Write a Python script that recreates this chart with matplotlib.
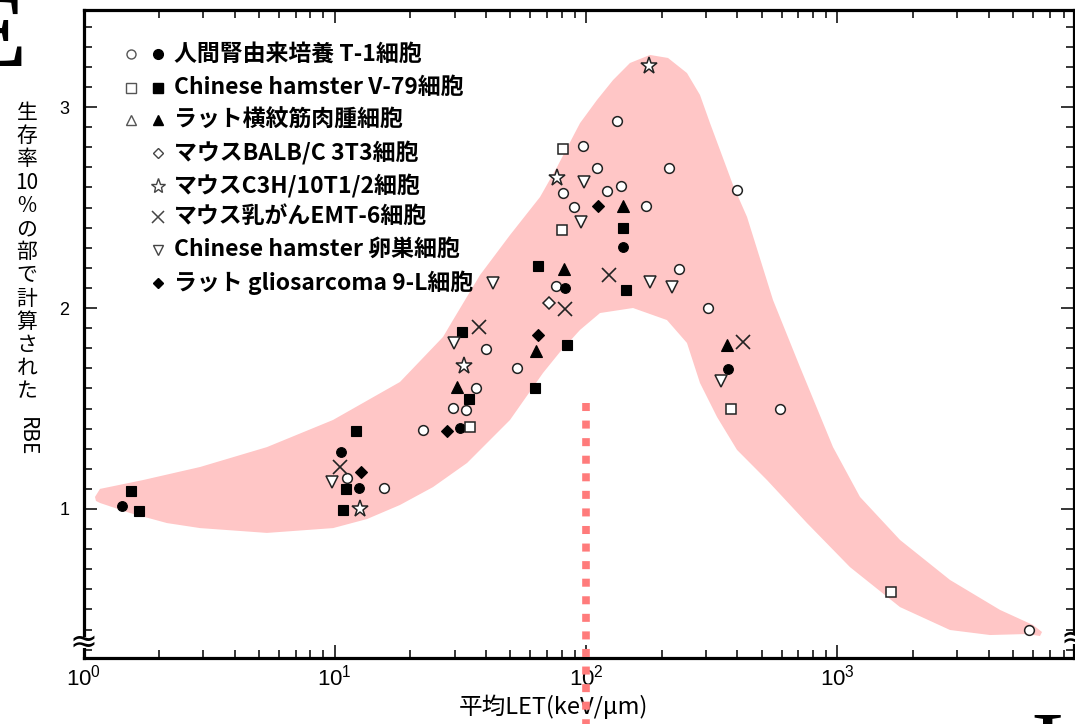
import numpy as np
import matplotlib
matplotlib.use("Agg")
import matplotlib.pyplot as plt

# ── data: LET (keV/um) and RBE at 10% survival ───────────────────────────────
t1_open_let = [11.18, 15.70, 22.44, 29.54, 33.27, 36.47, 39.97, 53.09, 75.91, 80.93,
               89.51, 97.21, 110.5, 121.1, 137.7, 132.7, 173.1, 213.8, 234.3, 305.6,
               398.6, 591.0, 5788]
t1_open_rbe = [1.154, 1.104, 1.393, 1.502, 1.493, 1.602, 1.796, 1.701, 2.109, 2.572,
               2.502, 2.806, 2.697, 2.582, 2.607, 2.930, 2.507, 2.697, 2.194, 2.000,
               2.587, 1.498, 0.398]
t1_fill_let = [1.423, 10.58, 12.49, 31.49, 82.41, 140.3, 367.0]
t1_fill_rbe = [1.015, 1.284, 1.104, 1.403, 2.100, 2.303, 1.697]

v79_open_let = [34.51, 80.2, 80.9, 377.2, 1634]
v79_open_rbe = [1.408, 2.388, 2.791, 1.498, 0.587]
v79_fill_let = [1.546, 1.663, 12.15, 11.08, 10.78, 32.08, 34.20, 62.6, 64.4, 83.9, 140.3, 144.1]
v79_fill_rbe = [1.090, 0.990, 1.388, 1.100, 0.995, 1.881, 1.547, 1.602, 2.209, 1.816, 2.398, 2.090]

rhabdo_let = [30.64, 63.2, 81.7, 140.3, 363.7]
rhabdo_rbe = [1.607, 1.786, 2.194, 2.507, 1.816]

balb_let = [71.2]
balb_rbe = [2.025]

c3h_let = [12.60, 32.67, 76.6, 177.9]
c3h_rbe = [1.000, 1.711, 2.647, 3.204]

emt6_let = [10.49, 37.48, 82.41, 123.4, 421.0]
emt6_rbe = [1.209, 1.905, 1.995, 2.164, 1.831]

cho_let = [9.75, 29.8, 42.6, 95.4, 98.1, 179.6, 219.7, 344.4]
cho_rbe = [1.134, 1.826, 2.124, 2.428, 2.627, 2.129, 2.104, 1.637]

gs9l_let = [12.72, 27.96, 64.4, 111.5]
gs9l_rbe = [1.184, 1.388, 1.866, 2.507]

# shaded band: outer edge (left tip -> right tip), then inner edge back
band_outer_let = [1.111, 1.163, 1.725, 2.91, 5.37, 9.84, 18.17, 26.96, 29.54, 37.83,
                  49.8, 65.55, 76.6, 94.6, 110.5, 128.0, 149.5, 179.6, 211.8, 252.0,
                  283.9, 311.2, 341.1, 384.2, 436.9, 554.2, 710.1, 960.5, 1230, 1775,
                  2806, 4436, 6003, 6520]
band_outer_rbe = [1.060, 1.100, 1.144, 1.209, 1.308, 1.443, 1.632, 1.856, 1.940, 2.164,
                  2.363, 2.552, 2.701, 2.920, 3.035, 3.134, 3.219, 3.259, 3.244, 3.169,
                  3.060, 2.920, 2.786, 2.612, 2.453, 2.040, 1.706, 1.308, 1.060, 0.846,
                  0.647, 0.498, 0.423, 0.388]
band_inner_let = [6400, 5683, 4048, 2806, 1775, 1122, 756.9, 524.6, 398.6, 331.8,
                  283.9, 252.0, 209.8, 153.7, 113.6, 94.6, 78.7, 67.4, 49.8, 33.6,
                  24.59, 18.17, 13.43, 9.84, 5.37, 2.91, 2.149, 1.531, 1.163, 1.121]
band_inner_rbe = [0.368, 0.378, 0.373, 0.398, 0.512, 0.711, 0.930, 1.144, 1.294, 1.458,
                  1.627, 1.826, 1.940, 2.000, 1.975, 1.891, 1.781, 1.677, 1.443, 1.229,
                  1.109, 1.020, 0.950, 0.905, 0.881, 0.905, 0.930, 0.980, 1.030, 1.040]

marker_let = 100
marker_rbe_top = 1.527

legend_labels = ["人間腎由来培養 T-1細胞", "Chinese hamster V-79細胞", "ラット横紋筋肉腫細胞",
                 "マウスBALB/C 3T3細胞", "マウスC3H/10T1/2細胞", "マウス乳がんEMT-6細胞",
                 "Chinese hamster 卵巣細胞", "ラット gliosarcoma 9-L細胞"]
ylabel_chars = ["生", "存", "率", "10", "%", "の", "部", "で", "計", "算", "さ", "れ", "た"]

# ── style ────────────────────────────────────────────────────────────────────
plt.rcParams["font.family"] = ["Liberation Sans", "Noto Sans CJK JP"]
plt.rcParams["mathtext.fontset"] = "custom"
plt.rcParams["mathtext.rm"] = "Liberation Sans"
plt.rcParams["mathtext.default"] = "rm"

W, H = 1075, 724
fig = plt.figure(figsize=(W / 100, H / 100), dpi=100)
ax = fig.add_axes([83.5 / W, (H - 658) / H, (1074 - 83.5) / W, (658 - 10) / H])

ax.set_xscale("log")
ax.set_xlim(1, 10 ** 3.9415)
ax.set_ylim(0.2587, 3.4826)

PINK = "#ffc6c6"
EDGE = "#222222"

ax.fill(band_outer_let + band_inner_let, band_outer_rbe + band_inner_rbe,
        color=PINK, lw=0, zorder=1)

ax.plot([marker_let, marker_let], [marker_rbe_top, -0.2], color="#ff7b7b", lw=5.5,
        ls=(0, (1.05, 1.25)), dash_capstyle="butt", clip_on=False, zorder=4)

def open_pts(x, y, m, ms):
    ax.plot(x, y, ls="none", marker=m, ms=ms, mfc="white", mec=EDGE, mew=1.1, zorder=3)

def fill_pts(x, y, m, ms):
    ax.plot(x, y, ls="none", marker=m, ms=ms, mfc="black", mec="black", mew=0.8, zorder=3)

open_pts(t1_open_let, t1_open_rbe, "o", 7)
fill_pts(t1_fill_let, t1_fill_rbe, "o", 7)
open_pts(v79_open_let, v79_open_rbe, "s", 7)
fill_pts(v79_fill_let, v79_fill_rbe, "s", 7)
fill_pts(rhabdo_let, rhabdo_rbe, "^", 8)
open_pts(balb_let, balb_rbe, "D", 6)
open_pts(c3h_let, c3h_rbe, "*", 12.5)
ax.plot(emt6_let, emt6_rbe, ls="none", marker="x", ms=10, mec=EDGE, mew=1.2, zorder=3)
open_pts(cho_let, cho_rbe, "v", 8.5)
fill_pts(gs9l_let, gs9l_rbe, "D", 6)

# ── legend drawn by hand ─────────────────────────────────────────────────────
rows_y = [0.932, 0.880, 0.830, 0.779, 0.728, 0.681, 0.630, 0.579]
legend_open = ["o", "s", "^", None, None, None, None, None]
legend_main = [("o", True), ("s", True), ("^", True), ("D", False), ("*", False),
               ("x", False), ("v", False), ("D", True)]
for yy, mo, (mm, filled), lab in zip(rows_y, legend_open, legend_main, legend_labels):
    if mo:
        ax.plot(0.048, yy, marker=mo, ms=6.5, mfc="white", mec="#555555", mew=1,
                transform=ax.transAxes, clip_on=False, zorder=5)
    size = {"*": 11, "x": 8.5, "D": 5.5}.get(mm, 7)
    if mm == "x":
        ax.plot(0.0752, yy, marker="x", ms=size, mec="#444444", mew=1.1,
                transform=ax.transAxes, zorder=5)
    else:
        ax.plot(0.0752, yy, marker=mm, ms=size, mfc="black" if filled else "white",
                mec="black" if filled else "#444444", mew=1,
                transform=ax.transAxes, zorder=5)
    ax.text(0.0915, yy, lab, transform=ax.transAxes, va="center", ha="left",
            fontsize=16.5, fontweight="bold", family=["Noto Sans CJK JP"], zorder=5)

# ── axes, ticks ──────────────────────────────────────────────────────────────
for sp in ax.spines.values():
    sp.set_linewidth(2.3)

ax.set_xticks([1, 10, 100, 1000])
ax.set_xticklabels([r"$10^{0}$", r"$10^{1}$", r"$10^{2}$", r"$10^{3}$"])
ax.set_xticks([m * 10 ** d for d in range(4) for m in range(2, 10) if m * 10 ** d < 8700],
              minor=True)
ax.set_yticks([1, 2, 3])
ax.set_yticklabels(["1", "2", "3"])
ax.set_yticks([v / 10 for v in range(3, 35) if v % 10], minor=True)

ax.tick_params(which="both", direction="in", top=True, right=True, width=1.1)
ax.tick_params(which="major", length=9.5)
ax.tick_params(which="minor", length=6)
ax.tick_params(axis="y", which="major", labelsize=13, pad=10)
ax.tick_params(axis="x", which="major", labelsize=16, pad=5)
ax.tick_params(axis="x", which="minor", labelbottom=False)

# axis break marks: gap in the spine plus a wavy double stroke
for xb, yb in [(0.0, 0.024), (1.0, 0.03)]:
    ax.plot([xb, xb], [yb - 0.008, yb + 0.008], transform=ax.transAxes, color="white",
            lw=4, solid_capstyle="butt", clip_on=False, zorder=5.5)
    ax.text(xb, yb, "≈", transform=ax.transAxes, ha="center", va="center",
            fontsize=24, family=["DejaVu Sans"], clip_on=False, zorder=6)

ax.text((553 - 83.5) / (1074 - 83.5), -0.075, "平均LET(keV/μm)",
        transform=ax.transAxes, ha="center", va="center", fontsize=17,
        family=["Noto Sans CJK JP"], clip_on=False, zorder=3)

# vertical y-label, characters stacked
for i, ch in enumerate(ylabel_chars):
    fig.text(27 / W, 1 - (113 + i * 23.2) / H, ch, ha="center", va="center",
             fontsize=15, family=["Noto Sans CJK JP"])
fig.text(27 / W, 1 - 437 / H, "RBE", ha="center", va="center", rotation=270,
         fontsize=15, family=["Noto Sans CJK JP"])

# fragments of neighbouring panel letters
fig.text(26 / W, 1 - 66 / H, "E", ha="right", va="baseline", fontsize=76,
         family=["Liberation Serif"], fontweight="bold")
fig.text(1047 / W, 1 - 779 / H, "I", ha="center", va="baseline", fontsize=72,
         family=["Liberation Serif"])

fig.savefig("out.png", dpi=100)
